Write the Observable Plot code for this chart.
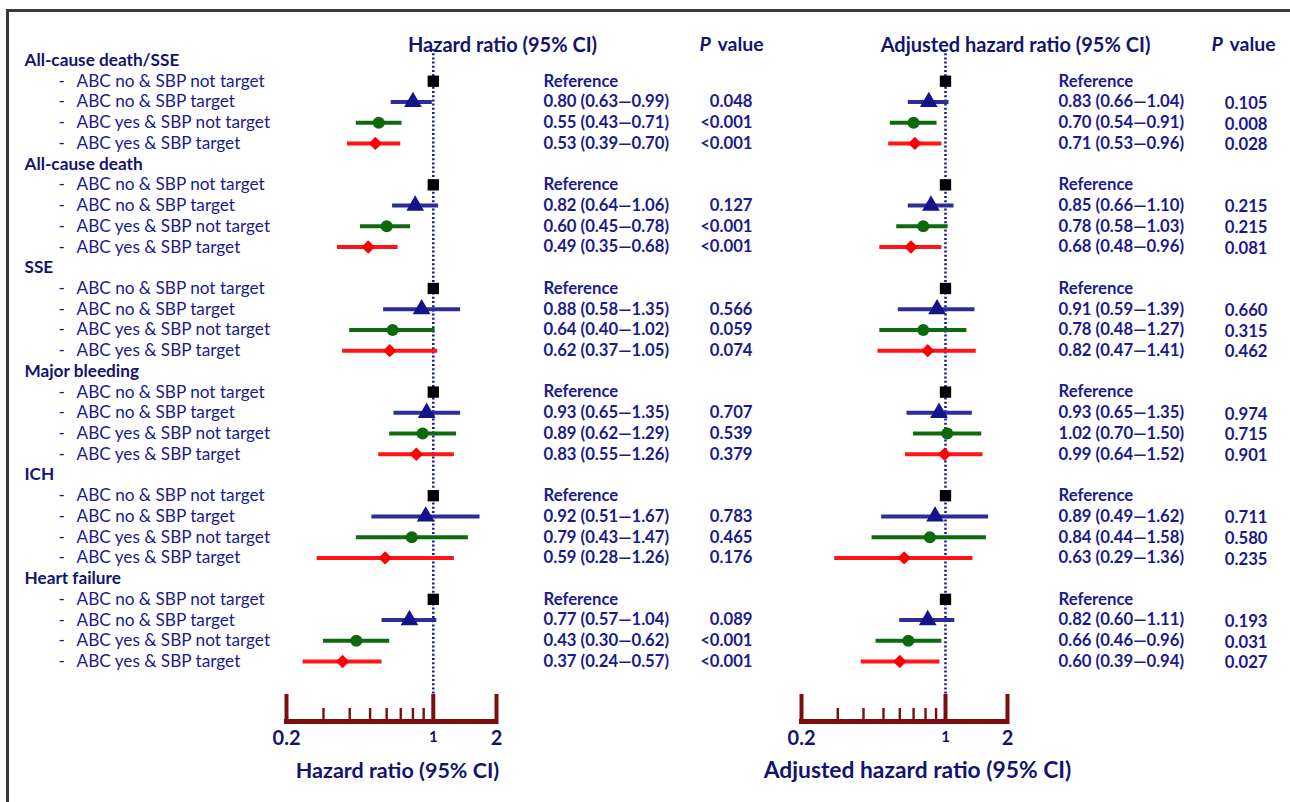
<!DOCTYPE html>
<html>
<head>
<meta charset="utf-8">
<script src="https://cdn.jsdelivr.net/npm/d3@7"></script>
<script src="https://cdn.jsdelivr.net/npm/@observablehq/plot@0.6"></script>
<style>
  html, body { margin: 0; padding: 0; background: #fff; }
  #chart { position: relative; width: 1290px; height: 802px; overflow: hidden; background: #fff; }
  #chart .frameline { position: absolute; left: 6px; top: 9px; width: 1290px; height: 800px;
    border-top: 3px solid #3a3a3a; border-left: 3px solid #3a3a3a; box-sizing: border-box; }
  #chart svg { position: absolute; left: 0; top: 0; }
</style>
</head>
<body>
<div id="chart"><div class="frameline"></div></div>
<script>
// ---------------- data ----------------
const outcomes = ["All-cause death/SSE", "All-cause death", "SSE", "Major bleeding", "ICH", "Heart failure"];
const groups = ["ABC no & SBP not target", "ABC no & SBP target", "ABC yes & SBP not target", "ABC yes & SBP target"];

// crude hazard ratios (first group is the reference)
const hrEst  = [[1, 0.80, 0.55, 0.53], [1, 0.82, 0.60, 0.49], [1, 0.88, 0.64, 0.62], [1, 0.93, 0.89, 0.83], [1, 0.92, 0.79, 0.59], [1, 0.77, 0.43, 0.37]];
const hrLow  = [[null, 0.63, 0.43, 0.39], [null, 0.64, 0.45, 0.35], [null, 0.58, 0.40, 0.37], [null, 0.65, 0.62, 0.55], [null, 0.51, 0.43, 0.28], [null, 0.57, 0.30, 0.24]];
const hrHigh = [[null, 0.99, 0.71, 0.70], [null, 1.06, 0.78, 0.68], [null, 1.35, 1.02, 1.05], [null, 1.35, 1.29, 1.26], [null, 1.67, 1.47, 1.26], [null, 1.04, 0.62, 0.57]];
const hrP    = [["", "0.048", "<0.001", "<0.001"], ["", "0.127", "<0.001", "<0.001"], ["", "0.566", "0.059", "0.074"], ["", "0.707", "0.539", "0.379"], ["", "0.783", "0.465", "0.176"], ["", "0.089", "<0.001", "<0.001"]];

// adjusted hazard ratios
const ahrEst  = [[1, 0.83, 0.70, 0.71], [1, 0.85, 0.78, 0.68], [1, 0.91, 0.78, 0.82], [1, 0.93, 1.02, 0.99], [1, 0.89, 0.84, 0.63], [1, 0.82, 0.66, 0.60]];
const ahrLow  = [[null, 0.66, 0.54, 0.53], [null, 0.66, 0.58, 0.48], [null, 0.59, 0.48, 0.47], [null, 0.65, 0.70, 0.64], [null, 0.49, 0.44, 0.29], [null, 0.60, 0.46, 0.39]];
const ahrHigh = [[null, 1.04, 0.91, 0.96], [null, 1.10, 1.03, 0.96], [null, 1.39, 1.27, 1.41], [null, 1.35, 1.50, 1.52], [null, 1.62, 1.58, 1.36], [null, 1.11, 0.96, 0.94]];
const ahrP    = [["", "0.105", "0.008", "0.028"], ["", "0.215", "0.215", "0.081"], ["", "0.660", "0.315", "0.462"], ["", "0.974", "0.715", "0.901"], ["", "0.711", "0.580", "0.235"], ["", "0.193", "0.031", "0.027"]];

const axisDomain = [0.2, 2];
const majorTicks = [0.2, 1, 2];
const minorTicks = [0.3, 0.4, 0.5, 0.6, 0.7, 0.8, 0.9];
const tickLabels = ["0.2", "1", "2"];
const referenceText = "Reference";

// ---------------- styling ----------------
const FONT = "Lato, 'Open Sans', sans-serif";
const TXT = "#1b1b8e";
const HEAD = "#141470";
const AXIS = "#7a0f0f";
const markerFill = ["#000000", "#14148a", "#0c6a0c", "#ff0000"];
const ciStroke   = ["#000000", "#2d2d98", "#0f6a0f", "#ff1515"];
const symbols = ["square", "triangle", "circle", "diamond2"];
const radii = [6.4, 6.6, 6.0, 6.0];

const rowsPerOutcome = groups.length + 1;
const nRows = outcomes.length * rowsPerOutcome;
const fmt = d3.format(".2f");

function buildRows(est, low, high, p) {
  const headers = [], items = [];
  outcomes.forEach((o, oi) => {
    headers.push({row: oi * rowsPerOutcome, outcome: o});
    groups.forEach((g, gi) => {
      const e = est[oi][gi], lo = low[oi][gi], hi = high[oi][gi];
      items.push({
        row: oi * rowsPerOutcome + 1 + gi, outcome: o, group: g, gi,
        est: e, lo, hi, p: p[oi][gi],
        label: lo == null ? referenceText : `${fmt(e)} (${fmt(lo)}\u2014${fmt(hi)})`
      });
    });
  });
  return {headers, items};
}

function panel(cfg) {
  const {headers, items} = buildRows(cfg.est, cfg.low, cfg.high, cfg.p);
  const marks = [];
  if (cfg.labels) {
    marks.push(
      Plot.text(headers, {y: "row", text: "outcome", frameAnchor: "left", dx: 24, textAnchor: "start",
        fontWeight: "bold", fontSize: 17.2, fill: HEAD}),
      Plot.text(items, {y: "row", text: () => "-", frameAnchor: "left", dx: 58, textAnchor: "start",
        fontSize: 17.2, fill: TXT}),
      Plot.text(items, {y: "row", text: "group", frameAnchor: "left", dx: 76, textAnchor: "start",
        fontSize: 17.2, fill: TXT})
    );
  }
  // column headers
  marks.push(
    Plot.text([cfg.title], {frameAnchor: "top-left", dx: cfg.titleCx, dy: 37, textAnchor: "middle",
      fontWeight: "bold", fontSize: 20, fill: HEAD}),
    Plot.text(["P"], {frameAnchor: "top-left", dx: cfg.pHeadX, dy: 37, textAnchor: "start",
      fontWeight: "bold", fontStyle: "italic", fontSize: 19.5, fill: HEAD}),
    Plot.text(["value"], {frameAnchor: "top-left", dx: cfg.pHeadX + 18, dy: 37, textAnchor: "start",
      fontWeight: "bold", fontSize: 19.5, fill: HEAD})
  );
  // reference line at 1
  marks.push(Plot.ruleX([1], {stroke: "#1c1ca0", strokeWidth: 2.6, strokeDasharray: "2,2.2", insetTop: 49, insetBottom: 26}));
  // axis
  marks.push(
    Plot.rect([axisDomain], {x1: d => d[0], x2: d => d[1], insetTop: 719, insetLeft: -2, insetRight: -2, fill: AXIS}),
    Plot.ruleX(majorTicks, {stroke: AXIS, strokeWidth: 4, insetTop: 694}),
    Plot.ruleX(minorTicks, {stroke: AXIS, strokeWidth: 2.4, insetTop: 708}),
    Plot.text(majorTicks.map((t, i) => ({t, s: tickLabels[i]})).filter(d => d.t !== 1),
      {x: "t", text: "s", frameAnchor: "bottom", dy: 20, fontWeight: "bold", fontSize: 20, fill: HEAD}),
    Plot.text(majorTicks.map((t, i) => ({t, s: tickLabels[i]})).filter(d => d.t === 1),
      {x: "t", text: "s", frameAnchor: "bottom", dy: 17, fontWeight: "bold", fontSize: 15, fill: HEAD}),
    Plot.text([cfg.title], {frameAnchor: "bottom-left", dx: cfg.axisTitleCx, dy: 53, textAnchor: "middle",
      fontWeight: "bold", fontSize: cfg.axisTitleSize, fill: HEAD})
  );
  // confidence intervals and point estimates
  groups.forEach((g, gi) => {
    const sub = items.filter(d => d.gi === gi);
    if (gi > 0) marks.push(Plot.ruleY(sub, {y: "row", x1: "lo", x2: "hi", stroke: ciStroke[gi], strokeWidth: 4}));
    marks.push(Plot.dot(sub, {x: "est", y: "row", symbol: () => symbols[gi], fill: markerFill[gi], r: radii[gi], stroke: "none"}));
  });
  // estimate text and P values
  marks.push(
    Plot.text(items, {y: "row", text: "label", frameAnchor: "left", dx: cfg.hrTextX, textAnchor: "start",
      fontWeight: "bold", fontSize: 16.7, fill: TXT}),
    Plot.text(items, {y: "row", text: "p", frameAnchor: "left", dx: cfg.pRight, dy: cfg.pDy, textAnchor: "end",
      fontWeight: "bold", fontSize: 16.7, fill: TXT})
  );
  return Plot.plot({
    width: 1290, height: 802,
    marginTop: 0, marginBottom: 78, marginLeft: 0, marginRight: 0,
    x: {type: "log", domain: axisDomain, range: cfg.xRange, axis: null},
    y: {domain: [0, nRows - 1], range: [60, 661], axis: null},
    symbol: {domain: symbols, range: symbols},
    style: {background: "transparent", fontFamily: FONT, overflow: "visible"},
    marks
  });
}

const chart = document.getElementById("chart");
chart.appendChild(panel({
  est: hrEst, low: hrLow, high: hrHigh, p: hrP, labels: true,
  title: "Hazard ratio (95% CI)", titleCx: 502, pHeadX: 699, axisTitleCx: 397, axisTitleSize: 21.5,
  xRange: [286, 496], hrTextX: 543, pRight: 752, pDy: 0
}));
chart.appendChild(panel({
  est: ahrEst, low: ahrLow, high: ahrHigh, p: ahrP, labels: false,
  title: "Adjusted hazard ratio (95% CI)", titleCx: 1015, pHeadX: 1211, axisTitleCx: 917, axisTitleSize: 22.8,
  xRange: [801, 1007], hrTextX: 1058, pRight: 1267, pDy: 1.5
}));
</script>
</body>
</html>
